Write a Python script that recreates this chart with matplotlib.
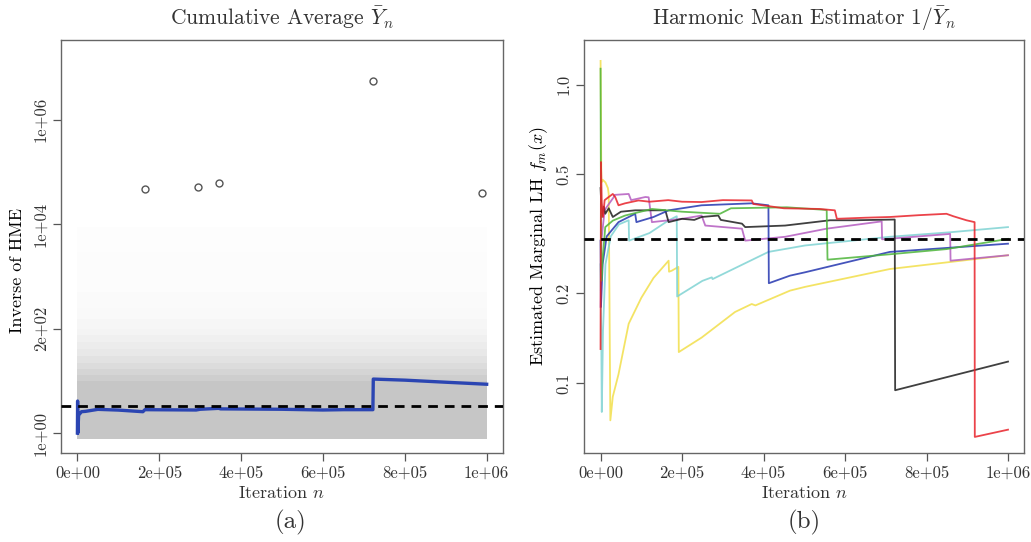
import numpy as np
import matplotlib
matplotlib.use('Agg')
import matplotlib.pyplot as plt

plt.rcParams['font.family'] = ['cmr10', 'DejaVu Serif']
plt.rcParams['mathtext.fontset'] = 'cm'
plt.rcParams['axes.formatter.use_mathtext'] = True
plt.rcParams['text.color'] = '#333333'

# ---- panel (a): cumulative average of inverse HME ----
# iterations in thousands
avg_k = [0, 0.5, 1, 3, 10, 20, 50, 100, 160, 165, 290, 300, 345, 350, 500, 600, 650, 722, 723, 800, 900, 1000]
avg_val = [1.0, 4.1, 1.0, 2.2, 2.56, 2.6, 2.84, 2.75, 2.56, 2.8, 2.76, 2.85, 2.97, 2.9, 2.85, 2.76, 2.8, 2.8, 10.8, 10.3, 9.4, 8.6]
avg_ref = 3.3

outlier_k = [164, 295, 346, 723, 988]
outlier_val = [4.8e4, 5.2e4, 6.1e4, 5.5e6, 3.9e4]

# grey cloud of single draws, summarised as density bands (value edges, opacity)
cloud_edges = [0.77, 10, 13, 17, 22, 30, 40, 55, 75, 100, 150, 250, 500, 1000, 3000, 9000]
cloud_alpha = [1.0, 0.85, 0.72, 0.6, 0.5, 0.4, 0.32, 0.25, 0.19, 0.14, 0.1, 0.07, 0.05, 0.035, 0.02]

# ---- panel (b): harmonic mean estimator, seven chains ----
chains = {
    'yellow': ([0, 2, 5, 12, 18, 20, 24, 30, 44, 69, 100, 130, 167, 168, 175, 191, 192, 248, 330, 371, 380,
                465, 502, 710, 1000],
               [1.2, 0.47, 0.48, 0.47, 0.45, 0.43, 0.075, 0.09, 0.107, 0.158, 0.193, 0.225, 0.257, 0.236, 0.238,
                0.245, 0.127, 0.142, 0.173, 0.184, 0.182, 0.204, 0.21, 0.241, 0.268]),
    'cyan': ([0, 2, 3, 6, 12, 25, 45, 69, 70, 120, 166, 187, 188, 250, 273, 275, 412, 502, 710, 858, 1000],
             [0.25, 0.13, 0.08, 0.15, 0.25, 0.31, 0.34, 0.351, 0.30, 0.318, 0.35, 0.362, 0.195, 0.22, 0.226,
              0.223, 0.275, 0.289, 0.309, 0.32, 0.333]),
    'magenta': ([0, 2, 10, 32, 35, 69, 75, 110, 118, 126, 200, 248, 257, 347, 355, 453, 555, 690, 691, 858,
                 859, 1000],
                [0.18, 0.30, 0.38, 0.419, 0.427, 0.43, 0.41, 0.42, 0.419, 0.346, 0.355, 0.364, 0.337, 0.329,
                 0.30, 0.309, 0.329, 0.348, 0.303, 0.316, 0.257, 0.268]),
    'black': ([0, 3, 8, 11.5, 20, 30, 50, 85, 159, 167, 200, 230, 248, 289, 295, 347, 355, 453, 563, 620,
               722, 723, 1000],
              [0.45, 0.36, 0.39, 0.369, 0.385, 0.36, 0.375, 0.379, 0.379, 0.346, 0.355, 0.352, 0.36, 0.364,
               0.352, 0.342, 0.333, 0.337, 0.351, 0.351, 0.353, 0.0946, 0.118]),
    'blue': ([0, 1, 5, 15, 44, 85, 88, 130, 167, 248, 371, 412, 413, 465, 502, 710, 1000],
             [0.30, 0.18, 0.25, 0.31, 0.346, 0.369, 0.346, 0.36, 0.379, 0.394, 0.40, 0.394, 0.216, 0.229,
              0.235, 0.275, 0.293]),
    'green': ([0, 1, 2, 5, 11.5, 30, 60, 126, 200, 293, 320, 457, 555, 557, 710, 849, 1000],
              [1.13, 0.35, 0.22, 0.26, 0.333, 0.35, 0.364, 0.383, 0.375, 0.369, 0.385, 0.388, 0.38, 0.259,
               0.27, 0.281, 0.304]),
    'red': ([0, 1, 3, 6, 10, 20, 30, 36, 44, 60, 93, 120, 166, 200, 248, 300, 371, 375, 450, 538, 575, 580,
             650, 710, 780, 849, 866, 898, 918, 918.5, 1000],
            [0.13, 0.55, 0.40, 0.36, 0.41, 0.42, 0.43, 0.42, 0.394, 0.40, 0.409, 0.405, 0.41, 0.405, 0.404,
             0.41, 0.409, 0.398, 0.385, 0.383, 0.379, 0.355, 0.358, 0.36, 0.365, 0.369, 0.362, 0.351, 0.346,
             0.066, 0.0698]),
}
chain_colors = {'yellow': '#F2DF4A', 'cyan': '#7FD3D3', 'magenta': '#B45CC0', 'black': '#1E1E1E',
                'blue': '#2436B0', 'green': '#4DB53A', 'red': '#E8222A'}
hme_ref = 0.303

x_ticks = [0, 2e5, 4e5, 6e5, 8e5, 1e6]
x_labels = ['0e+00', '2e+05', '4e+05', '6e+05', '8e+05', '1e+06']
a_yticks = [1, 1e2, 1e4, 1e6]
a_ylabels = ['1e+00', '2e+02', '1e+04', '1e+06']
b_yticks = [0.1, 0.2, 0.5, 1.0]
b_ylabels = ['0.1', '0.2', '0.5', '1.0']

fig = plt.figure(figsize=(10.31, 5.42), dpi=100)
ax1 = fig.add_axes([0.0592, 0.1642, 0.4287, 0.762])
ax2 = fig.add_axes([0.5667, 0.1642, 0.4268, 0.762])


def style(ax):
    for s in ax.spines.values():
        s.set_color('#666666')
        s.set_linewidth(1.0)
    ax.tick_params(direction='out', length=6, width=0.9, color='#555555',
                   labelsize=12, labelcolor='#333333', pad=3)
    ax.set_xticks(x_ticks)
    ax.set_xticklabels(x_labels)
    ax.set_xlim(-0.04e6, 1.04e6)
    ax.tick_params(axis='y', labelrotation=90)
    for lab in ax.get_yticklabels():
        lab.set_va('center')
    ax.minorticks_off()


# panel (a)
ax1.set_yscale('log')
for lo, hi, a in zip(cloud_edges[:-1], cloud_edges[1:], cloud_alpha):
    ax1.fill_between([0, 1e6], lo, hi, color='#C6C6C6', alpha=a, lw=0, zorder=1)
ax1.plot(np.array(avg_k) * 1e3, avg_val, color='#2B45B2', lw=2.4, zorder=3)
ax1.axhline(avg_ref, color='black', lw=2.0, ls=(0, (3.5, 2.5)), zorder=4)
ax1.plot(np.array(outlier_k) * 1e3, outlier_val, 'o', ms=5, mfc='none', mec='#555555', mew=1.0, zorder=5)
ax1.set_ylim(10 ** -0.383, 10 ** 7.53)
ax1.set_yticks(a_yticks)
ax1.set_yticklabels(a_ylabels)
style(ax1)
ax1.set_title(r'Cumulative Average $\bar{Y}_n$', fontsize=15.5, pad=11, color='#333333')
ax1.set_ylabel('Inverse of HME', fontsize=13)
ax1.yaxis.set_label_coords(-0.081, 0.443)
ax1.text(0.5, -0.097, r'Iteration $n$', transform=ax1.transAxes, ha='center', va='center', fontsize=13)
ax1.text(0.52, -0.167, '(a)', transform=ax1.transAxes, ha='center', va='center', fontsize=18)

# panel (b)
ax2.set_yscale('log')
for name, (k, v) in chains.items():
    ax2.plot(np.array(k) * 1e3, v, color=chain_colors[name], lw=1.3, alpha=0.85, zorder=2)
ax2.axhline(hme_ref, color='black', lw=2.0, ls=(0, (3.5, 2.5)), zorder=4)
ax2.set_ylim(0.0583, 1.41)
ax2.set_yticks(b_yticks)
ax2.set_yticklabels(b_ylabels)
style(ax2)
ax2.set_title(r'Harmonic Mean Estimator $1/\bar{Y}_n$', fontsize=15.5, pad=11, color='#333333')
ax2.set_ylabel(r'Estimated Marginal LH $f_m(x)$', fontsize=13)
ax2.yaxis.set_label_coords(-0.078, 0.5)
ax2.text(0.5, -0.097, r'Iteration $n$', transform=ax2.transAxes, ha='center', va='center', fontsize=13)
ax2.text(0.5, -0.167, '(b)', transform=ax2.transAxes, ha='center', va='center', fontsize=18)

plt.savefig('out.png', dpi=100)
